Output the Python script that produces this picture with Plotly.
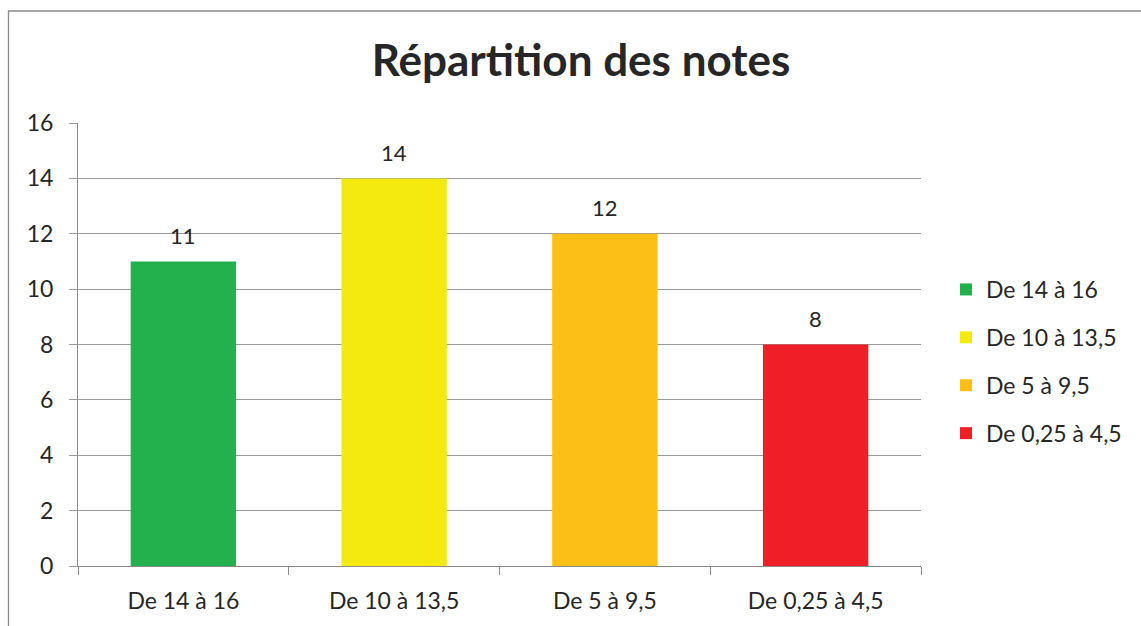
import plotly.graph_objects as go

categories = ["De 14 à 16", "De 10 à 13,5", "De 5 à 9,5", "De 0,25 à 4,5"]
values = [11, 14, 12, 8]
colors = ["#23B14D", "#F4EA10", "#FBBF16", "#EE1F26"]
y_ticks = [0, 2, 4, 6, 8, 10, 12, 14, 16]
title_text = "Répartition des notes"

W, H = 1141, 626
L, R, T, B = 78, 220, 123, 60
pw, ph = W - L - R, H - T - B

def px_x(p):
    return (p - L) / pw

def px_y(p):
    return (H - B - p) / ph

FONT = "Lato"
TXT = "#262626"
GRID = "#9a9a9a"
AXIS = "#8a8a8a"

fig = go.Figure()
for i, (c, v, col) in enumerate(zip(categories, values, colors)):
    fig.add_trace(go.Bar(
        x=[c], y=[v], name=c, marker=dict(color=col, line=dict(width=0)),
        width=0.5, legendgroup=f"g{i}", hoverinfo="x+y",
    ))
    fig.add_annotation(x=c, y=v, text=str(v), showarrow=False, yshift=26,
                       font=dict(family=FONT, size=22, color=TXT))

fig.update_layout(
    width=W, height=H,
    margin=dict(l=L, r=R, t=T, b=B),
    paper_bgcolor="white", plot_bgcolor="white",
    barmode="overlay",
    font=dict(family=FONT, color=TXT),
    title=dict(text=f"<b>{title_text}</b>", x=581 / W, xanchor="center",
               y=1 - 61 / H, yanchor="middle", yref="container",
               font=dict(family=FONT, size=44, color=TXT)),
    legend=dict(x=px_x(946), xanchor="left", y=px_y(268), yanchor="top",
                font=dict(family=FONT, size=23, color=TXT),
                tracegroupgap=15, itemwidth=30, bgcolor="rgba(0,0,0,0)"),
    showlegend=True,
)
fig.update_xaxes(
    type="category", categoryorder="array", categoryarray=categories,
    showline=True, linecolor=AXIS, linewidth=1,
    ticks="outside", tickson="boundaries", ticklen=8, tickcolor=AXIS,
    showgrid=False, ticklabelstandoff=14,
    tickfont=dict(family=FONT, size=23, color=TXT),
)
fig.update_yaxes(
    range=[0, 16], tickvals=y_ticks, showline=True, linecolor=AXIS, linewidth=1,
    ticks="outside", ticklen=8, tickcolor=GRID,
    showgrid=True, gridcolor=GRID, gridwidth=1, zeroline=False,
    ticklabelstandoff=11,
    tickfont=dict(family=FONT, size=23, color=TXT),
)
fig.add_shape(type="rect", xref="paper", yref="paper",
              x0=px_x(8.5), x1=px_x(1200), y0=px_y(700), y1=px_y(11),
              line=dict(color="#8a8a8a", width=1.3), fillcolor="rgba(0,0,0,0)",
              layer="below")

fig.write_html("out.html", config={"displayModeBar": False},
               post_script="document.body.style.margin='0px';")
